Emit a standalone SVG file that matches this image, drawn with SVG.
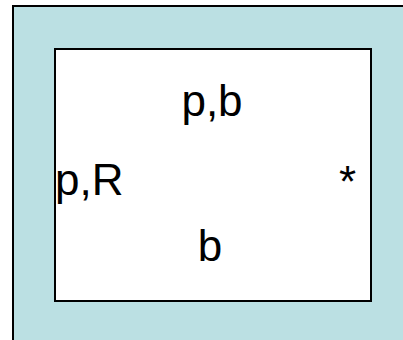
<svg xmlns="http://www.w3.org/2000/svg" width="403" height="340" viewBox="0 0 403 340">
<style>
text{font-family:"Liberation Sans",Arial,sans-serif;font-size:44px;fill:#000}
</style>
<rect width="403" height="340" fill="#fff"/>
<g id="outer"><rect x="13" y="6" width="400" height="350" fill="#bbe0e3" stroke="#000" stroke-width="2"/></g>
<g id="inner"><rect x="55" y="49" width="316" height="252" fill="#fff" stroke="#000" stroke-width="2"/></g>
<g id="labels">
<text x="212" y="116" text-anchor="middle">p,b</text>
<text x="55" y="195">p,R</text>
<text x="339" y="197">*</text>
<text x="210" y="261" text-anchor="middle">b</text>
</g>
</svg>
